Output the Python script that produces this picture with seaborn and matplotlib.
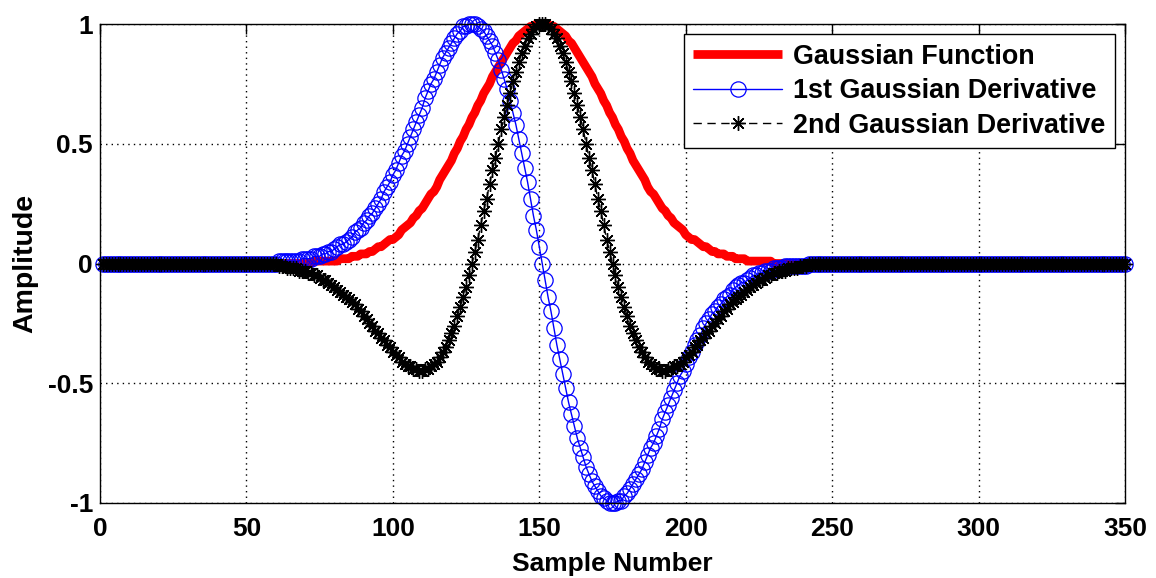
import matplotlib
matplotlib.use("Agg")
import matplotlib.pyplot as plt
import seaborn as sns
import pandas as pd

# ---------------- data ----------------
samples = list(range(1, 351))

gaussian = [
    0, 0, 0, 0, 0, 0, 0, 0, 0, 0,
    0, 0, 0, 0, 0, 0, 0, 0, 0, 0,
    0, 0, 0, 0, 0, 0, 0, 0, 0, 0,
    0, 0, 0, 0, 0, 0, 0, 0, 0, 0,
    0, 0, 0, 0, 0, 0, 0, 0, 0, 0,
    0, 0, 0, 0, 0, 0, 0, 0, 0, 0,
    0, 0, 0, 0, 0, 0, 0, 0, 0, 0,
    0, 0, .01, .01, .01, .01, .01, .01, .01, .01,
    .01, .02, .02, .02, .02, .03, .03, .03, .04, .04,
    .04, .05, .05, .06, .07, .07, .08, .09, .10, .10,
    .11, .12, .14, .15, .16, .17, .19, .20, .22, .23,
    .25, .27, .29, .30, .32, .35, .37, .39, .41, .43,
    .46, .48, .51, .53, .56, .58, .61, .63, .66, .68,
    .71, .73, .75, .78, .80, .82, .84, .86, .88, .90,
    .92, .93, .95, .96, .97, .98, .99, .99, 1.00, 1.00,
    1.00,
    1.00, 1.00, .99, .99, .98, .97, .96, .95, .93, .92,
    .90, .88, .86, .84, .82, .80, .78, .75, .73, .71,
    .68, .66, .63, .61, .58, .56, .53, .51, .48, .46,
    .43, .41, .39, .37, .35, .32, .30, .29, .27, .25,
    .23, .22, .20, .19, .17, .16, .15, .14, .12, .11,
    .10, .10, .09, .08, .07, .07, .06, .05, .05, .04,
    .04, .04, .03, .03, .03, .02, .02, .02, .02, .01,
    .01, .01, .01, .01, .01, .01, .01, .01, 0, 0,
    0, 0, 0, 0, 0, 0, 0, 0, 0, 0,
    0, 0, 0, 0, 0, 0, 0, 0, 0, 0,
    0, 0, 0, 0, 0, 0, 0, 0, 0, 0,
    0, 0, 0, 0, 0, 0, 0, 0, 0, 0,
    0, 0, 0, 0, 0, 0, 0, 0, 0, 0,
    0, 0, 0, 0, 0, 0, 0, 0, 0, 0,
    0, 0, 0, 0, 0, 0, 0, 0, 0, 0,
    0, 0, 0, 0, 0, 0, 0, 0, 0, 0,
    0, 0, 0, 0, 0, 0, 0, 0, 0, 0,
    0, 0, 0, 0, 0, 0, 0, 0, 0, 0,
    0, 0, 0, 0, 0, 0, 0, 0, 0, 0,
    0, 0, 0, 0, 0, 0, 0, 0, 0,
]

first_derivative = [
    0, 0, 0, 0, 0, 0, 0, 0, 0, 0,
    0, 0, 0, 0, 0, 0, 0, 0, 0, 0,
    0, 0, 0, 0, 0, 0, 0, 0, 0, 0,
    0, 0, 0, 0, 0, 0, 0, 0, 0, 0,
    0, 0, 0, 0, 0, 0, 0, 0, 0, 0,
    0, 0, 0, 0, 0, 0, 0, 0, 0, 0,
    .01, .01, .01, .01, .01, .01, .01, .01, .02, .02,
    .02, .02, .03, .03, .03, .04, .04, .05, .05, .06,
    .07, .08, .08, .09, .10, .11, .13, .14, .15, .17,
    .18, .20, .21, .23, .25, .27, .30, .32, .34, .37,
    .39, .42, .45, .47, .50, .53, .56, .59, .62, .65,
    .69, .72, .75, .77, .80, .83, .86, .88, .90, .92,
    .94, .96, .97, .99, .99, 1.00, 1.00, 1.00, .99, .98,
    .97, .95, .93, .91, .88, .85, .81, .77, .73, .68,
    .63, .58, .52, .46, .40, .34, .27, .20, .14, .07,
    0,
    -.07, -.14, -.20, -.27, -.34, -.40, -.46, -.52, -.58, -.63,
    -.68, -.73, -.77, -.81, -.85, -.88, -.91, -.93, -.95, -.97,
    -.98, -.99, -1.00, -1.00, -1.00, -.99, -.99, -.97, -.96, -.94,
    -.92, -.90, -.88, -.86, -.83, -.80, -.77, -.75, -.72, -.69,
    -.65, -.62, -.59, -.56, -.53, -.50, -.47, -.45, -.42, -.39,
    -.37, -.34, -.32, -.30, -.27, -.25, -.23, -.21, -.20, -.18,
    -.17, -.15, -.14, -.13, -.11, -.10, -.09, -.08, -.08, -.07,
    -.06, -.05, -.05, -.04, -.04, -.03, -.03, -.03, -.02, -.02,
    -.02, -.02, -.01, -.01, -.01, -.01, -.01, -.01, -.01, -.01,
    0, 0, 0, 0, 0, 0, 0, 0, 0, 0,
    0, 0, 0, 0, 0, 0, 0, 0, 0, 0,
    0, 0, 0, 0, 0, 0, 0, 0, 0, 0,
    0, 0, 0, 0, 0, 0, 0, 0, 0, 0,
    0, 0, 0, 0, 0, 0, 0, 0, 0, 0,
    0, 0, 0, 0, 0, 0, 0, 0, 0, 0,
    0, 0, 0, 0, 0, 0, 0, 0, 0, 0,
    0, 0, 0, 0, 0, 0, 0, 0, 0, 0,
    0, 0, 0, 0, 0, 0, 0, 0, 0, 0,
    0, 0, 0, 0, 0, 0, 0, 0, 0, 0,
    0, 0, 0, 0, 0, 0, 0, 0, 0,
]

second_derivative = [
    0, 0, 0, 0, 0, 0, 0, 0, 0, 0,
    0, 0, 0, 0, 0, 0, 0, 0, 0, 0,
    0, 0, 0, 0, 0, 0, 0, 0, 0, 0,
    0, 0, 0, 0, 0, 0, 0, 0, 0, 0,
    0, 0, 0, 0, 0, 0, 0, 0, 0, 0,
    0, 0, 0, 0, 0, 0, 0, 0, 0, 0,
    -.01, -.01, -.01, -.02, -.02, -.02, -.02, -.03, -.03, -.03,
    -.04, -.04, -.05, -.05, -.06, -.07, -.07, -.08, -.09, -.10,
    -.11, -.12, -.13, -.14, -.15, -.16, -.17, -.19, -.20, -.22,
    -.23, -.25, -.26, -.28, -.29, -.31, -.32, -.34, -.35, -.37,
    -.38, -.39, -.41, -.42, -.43, -.43, -.44, -.44, -.45, -.45,
    -.44, -.44, -.43, -.42, -.41, -.39, -.37, -.35, -.32, -.29,
    -.26, -.22, -.18, -.14, -.10, -.05, 0, .05, .10, .16,
    .22, .27, .33, .39, .44, .50, .56, .61, .66, .71,
    .76, .80, .84, .88, .91, .94, .96, .98, .99, 1.00,
    1.00,
    1.00, .99, .98, .96, .94, .91, .88, .84, .80, .76,
    .71, .66, .61, .56, .50, .44, .39, .33, .27, .22,
    .16, .10, .05, 0, -.05, -.10, -.14, -.18, -.22, -.26,
    -.29, -.32, -.35, -.37, -.39, -.41, -.42, -.43, -.44, -.44,
    -.45, -.45, -.44, -.44, -.43, -.43, -.42, -.41, -.39, -.38,
    -.37, -.35, -.34, -.32, -.31, -.29, -.28, -.26, -.25, -.23,
    -.22, -.20, -.19, -.17, -.16, -.15, -.14, -.13, -.12, -.11,
    -.10, -.09, -.08, -.07, -.07, -.06, -.05, -.05, -.04, -.04,
    -.03, -.03, -.03, -.02, -.02, -.02, -.02, -.01, -.01, -.01,
    0, 0, 0, 0, 0, 0, 0, 0, 0, 0,
    0, 0, 0, 0, 0, 0, 0, 0, 0, 0,
    0, 0, 0, 0, 0, 0, 0, 0, 0, 0,
    0, 0, 0, 0, 0, 0, 0, 0, 0, 0,
    0, 0, 0, 0, 0, 0, 0, 0, 0, 0,
    0, 0, 0, 0, 0, 0, 0, 0, 0, 0,
    0, 0, 0, 0, 0, 0, 0, 0, 0, 0,
    0, 0, 0, 0, 0, 0, 0, 0, 0, 0,
    0, 0, 0, 0, 0, 0, 0, 0, 0, 0,
    0, 0, 0, 0, 0, 0, 0, 0, 0, 0,
    0, 0, 0, 0, 0, 0, 0, 0, 0,
]

series_labels = ["Gaussian Function", "1st Gaussian Derivative",
                 "2nd Gaussian Derivative"]
x_ticks = [0, 50, 100, 150, 200, 250, 300, 350]
y_ticks = [-1, -0.5, 0, 0.5, 1]
y_tick_labels = ["-1", "-0.5", "0", "0.5", "1"]
x_label = "Sample Number"
y_label = "Amplitude"

df = pd.DataFrame({"sample": samples, "g": gaussian,
                   "d1": first_derivative, "d2": second_derivative})

# ---------------- style ----------------
sns.set_style("white")
plt.rcParams["font.family"] = ["Liberation Sans", "DejaVu Sans"]
plt.rcParams["font.weight"] = "bold"
for key in ["text.color", "axes.labelcolor", "xtick.color", "ytick.color"]:
    plt.rcParams[key] = "black"

fig = plt.figure(figsize=(11.56, 5.78), dpi=100)
ax = fig.add_axes([100 / 1156, 1 - 503 / 578, 1025 / 1156, 479 / 578])

sns.lineplot(data=df, x="sample", y="g", ax=ax, color="#ff0000",
             linewidth=6.3, label=series_labels[0], clip_on=False,
             solid_capstyle="butt")
sns.lineplot(data=df, x="sample", y="d1", ax=ax, color="#0000ff",
             linewidth=1.0, marker="o", markersize=11,
             markerfacecolor="none", markeredgecolor="#0000ff",
             markeredgewidth=0.9, label=series_labels[1], clip_on=False)
sns.lineplot(data=df, x="sample", y="d2", ax=ax, color="black",
             linewidth=1.0, linestyle=(0, (6, 4)), marker=(8, 2, 0),
             markersize=10.5, markeredgecolor="black", markeredgewidth=1.0,
             label=series_labels[2], clip_on=False)

ax.set_xlim(0, 350)
ax.set_ylim(-1, 1)
ax.set_xticks(x_ticks)
ax.set_xticklabels([str(t) for t in x_ticks])
ax.set_yticks(y_ticks)
ax.set_yticklabels(y_tick_labels)

ax.tick_params(axis="both", direction="in", length=7, width=1,
               top=True, right=True, labelsize=19, colors="black",
               labelcolor="black")
ax.tick_params(axis="x", pad=10)
ax.tick_params(axis="y", pad=5)
for lab in ax.get_xticklabels() + ax.get_yticklabels():
    lab.set_fontweight("bold")

ax.grid(True, linestyle=(0, (1, 3)), color="black", linewidth=1.0)
for sp in ax.spines.values():
    sp.set_color("black")
    sp.set_linewidth(1.0)
    sp.set_visible(True)
    sp.set_zorder(5)

ax.set_xlabel(x_label, fontsize=19, fontweight="bold", labelpad=8,
              color="black")
ax.set_ylabel(y_label, fontsize=20.5, fontweight="bold", labelpad=7,
              color="black")

leg = ax.legend(loc="upper right", fontsize=19.4, frameon=True,
                fancybox=False, edgecolor="black", framealpha=1,
                borderaxespad=0.38, handlelength=3.3, handletextpad=0.4,
                labelspacing=0.32, borderpad=0.35, numpoints=1)
leg.get_frame().set_linewidth(1.0)
for t in leg.get_texts():
    t.set_fontweight("bold")
    t.set_color("black")

fig.savefig("out.png", dpi=100)
